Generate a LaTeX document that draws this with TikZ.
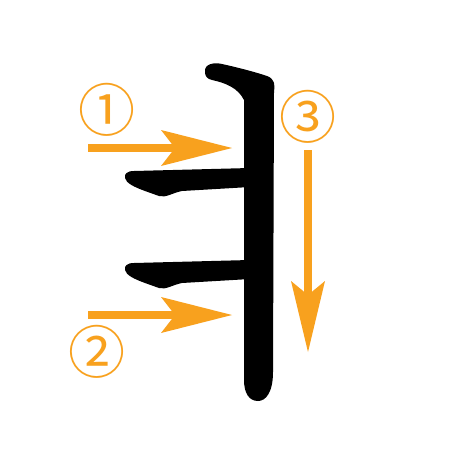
\documentclass[tikz,border=0pt]{standalone}
\usepackage{fontspec}
\newfontfamily\circfont{Noto Sans CJK JP}
\definecolor{strokeorange}{HTML}{F8A11E}
\begin{document}
\begin{tikzpicture}[x=1pt,y=-1pt,
  ink/.style={fill=black,draw=none},
  arrowline/.style={draw=strokeorange,line width=8pt},
  arrowhead/.style={fill=strokeorange,draw=none},
  numlabel/.style={text=strokeorange,font=\circfont\fontsize{57}{57}\selectfont,inner sep=0pt}]
\useasboundingbox[fill=white] (0,0) rectangle (450,450);
% vertical stroke with hook
\path[ink] (205,72) .. controls (204,64) and (214,62) .. (222,64)
  .. controls (240,68) and (255,72) .. (267,76)
  .. controls (275,79) and (275,85) .. (274,92)
  -- (273,372) .. controls (273,392) and (266,401) .. (258,401)
  .. controls (249,401) and (244,393) .. (244,380)
  -- (244,100) .. controls (238,88) and (226,83) .. (212,80)
  .. controls (207,79) and (205,76) .. (205,72) -- cycle;
% horizontal stroke 1
\path[ink] (250,168) -- (134,171) .. controls (127,171) and (124,174) .. (125,178)
  .. controls (126,183) and (134,187) .. (145,191)
  -- (159,196) .. controls (166,198) and (172,193) .. (182,191)
  -- (250,187) -- cycle;
% horizontal stroke 2
\path[ink] (250,260) -- (134,263) .. controls (127,263) and (124,266) .. (125,270)
  .. controls (126,275) and (134,279) .. (145,283)
  -- (159,288) .. controls (166,290) and (172,285) .. (182,283)
  -- (250,279) -- cycle;
% arrow 1
\coordinate (a1s) at (88,148);
\coordinate (a1e) at (176,148);
\draw[arrowline] (a1s) -- (a1e);
\path[arrowhead] (232,148) -- (161,130) -- (175,148) -- (161,166) -- cycle;
\node[numlabel] (n1) at (107,110) {①};
% arrow 2
\coordinate (a2s) at (88,315);
\coordinate (a2e) at (176,315);
\draw[arrowline] (a2s) -- (a2e);
\path[arrowhead] (232,315) -- (161,297) -- (175,315) -- (161,333) -- cycle;
\node[numlabel] (n2) at (97,352) {②};
% arrow 3
\coordinate (a3s) at (308,150);
\coordinate (a3e) at (308,296);
\draw[arrowline] (a3s) -- (a3e);
\path[arrowhead] (308,352) -- (291,281) -- (308,295) -- (325,281) -- cycle;
\node[numlabel] (n3) at (308,117) {③};
\end{tikzpicture}
\end{document}
